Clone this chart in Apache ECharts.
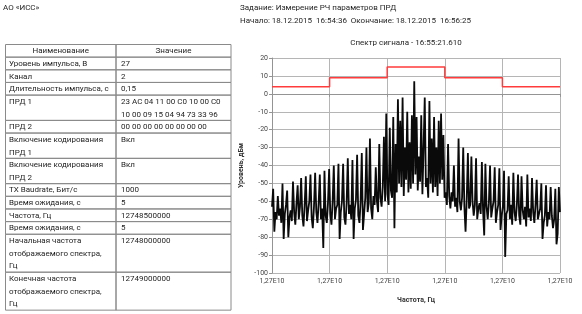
<!DOCTYPE html>
<html>
<head>
<meta charset="utf-8">
<script src="https://cdn.jsdelivr.net/npm/echarts@6/dist/echarts.min.js"></script>
<style>
  html, body { margin: 0; padding: 0; background: #fff; }
  #chart { width: 582px; height: 314px; }
</style>
</head>
<body>
<div id="chart"></div>
<script>
var FONT = 'Roboto, "Noto Sans", sans-serif';

// page texts
var orgName = 'АО «ИСС»';
var taskLine = 'Задание: Измерение РЧ параметров ПРД';
var timeLine = 'Начало: 18.12.2015  16:54:36  Окончание: 18.12.2015  16:56:25';
var chartTitle = 'Спектр сигнала - 16:55:21.610';

// parameter table
var tableHead = ['Наименование', 'Значение'];
var paramNames = [
  'Уровень импульса, В',
  'Канал',
  'Длительность импульса, с',
  'ПРД 1',
  'ПРД 2',
  'Включение кодирования\nПРД 1',
  'Включение кодирования\nПРД 2',
  'TX Baudrate, Бит/с',
  'Время ожидания, с',
  'Частота, Гц',
  'Время ожидания, с',
  'Начальная частота\nотображаемого спектра,\nГц',
  'Конечная частота\nотображаемого спектра,\nГц'
];
var paramValues = [
  '27',
  '2',
  '0,15',
  '23 AC 04 11 00 C0 10 00 C0\n10 00 09 15 04 94 73 33 96',
  '00 00 00 00 00 00 00 00',
  'Вкл',
  'Вкл',
  '1000',
  '5',
  '12748500000',
  '5',
  '12748000000',
  '12749000000'
];

// spectrum sweep (Hz) and measured levels (dBm), one per sweep point
var startHz = 12748000000;
var stopHz = 12749000000;
var stepHz = 200000;
var levels = [
  -63, -53, -77, -66, -70, -57, -68, -64, -72, -50,
  -81, -67, -62, -54, -80, -69, -65, -71, -49, -66,
  -73, -61, -51, -70, -63, -47, -68, -74, -62, -46,
  -71, -65, -60, -45, -69, -75, -63, -44, -66, -72,
  -61, -45, -70, -64, -86, -43, -68, -72, -61, -42,
  -67, -73, -60, -40, -70, -64, -62, -39, -81, -66,
  -60, -39, -69, -73, -61, -36, -67, -62, -70, -37,
  -81, -64, -59, -34, -68, -72, -60, -33, -76, -67,
  -58, -30, -66, -61, -25, -64, -70, -57, -62, -41,
  -60, -66, -28, -58, -63, -52, -24, -60, -11, -56,
  -62, -19, -54, -58, -13, -75, -28, -55, -3, -50,
  -15, -52, -2, -57, -30, -48, -10, -55, -27, -53,
  -12, -50, 7, -45, -13, -54, -35, -49, -12, -56,
  -30, -2, -52, -47, -58, -4, -50, -25, -55, -13,
  -52, -30, -57, -15, -50, -11, -48, -23, -58, -55,
  -62, -28, -57, -64, -55, -60, -40, -63, -58, -66,
  -25, -60, -65, -58, -30, -63, -77, -59, -33, -64,
  -62, -35, -60, -68, -62, -36, -70, -64, -61, -67,
  -38, -65, -79, -39, -63, -70, -61, -40, -69, -64,
  -60, -41, -72, -66, -62, -41.5, -76, -68, -63, -43,
  -91, -67, -65, -46, -70, -62, -73, -44, -66, -71,
  -62, -45, -68, -73, -46, -65, -70, -63, -74, -45,
  -69, -64, -71, -47, -66, -72, -62, -48, -70, -67,
  -64, -50, -81, -72, -68, -51, -74, -66, -70, -52,
  -68, -75, -70, -53, -84, -78, -52, -66
];

// limit mask (dBm), stepped at the band edges
var maskFreq = [12748000000, 12748200000, 12748400000, 12748600000, 12748800000, 12749000000];
var maskLevel = [4, 9, 15, 9, 4, 4];

var spectrumData = levels.map(function (v, i) {
  return [startHz + i * (stopHz - startHz) / (levels.length - 1), v];
});
var maskData = maskFreq.map(function (f, i) { return [f, maskLevel[i]]; });

// table drawn as graphic elements
var elements = [];
var tX = 5.5, w1 = 110.5, w2 = 115, tTop = 44.5, lineH = 12.65;
var textColor = '#1e1e1e', borderColor = '#8a8a8a';

function addText(x, y, text, align) {
  elements.push({
    type: 'text', x: x, y: y, silent: true,
    style: {
      text: text, fill: textColor, font: '8px ' + FONT,
      align: align || 'left', verticalAlign: 'top', lineHeight: lineH
    }
  });
}
function addCell(x, y, w, h) {
  elements.push({
    type: 'rect', silent: true,
    shape: { x: x, y: y, width: w, height: h },
    style: { fill: 'none', stroke: borderColor, lineWidth: 1 }
  });
}

addCell(tX, tTop, w1, lineH);
addCell(tX + w1, tTop, w2, lineH);
addText(tX + w1 / 2, tTop + 0.5, tableHead[0], 'center');
addText(tX + w1 + w2 / 2, tTop + 0.5, tableHead[1], 'center');

var rowY = tTop + lineH;
paramNames.forEach(function (name, i) {
  var n = Math.max(name.split('\n').length, paramValues[i].split('\n').length);
  var h = n * lineH;
  addCell(tX, rowY, w1, h);
  addCell(tX + w1, rowY, w2, h);
  addText(tX + 3.5, rowY + 0.5, name);
  addText(tX + w1 + 5, rowY + 0.5, paramValues[i]);
  rowY += h;
});

addText(3, 2, orgName);
addText(240, 2, taskLine);
addText(240, 15, timeLine);
addText(406, 37, chartTitle, 'center');

var chart = echarts.init(document.getElementById('chart'));
chart.setOption({
  animation: false,
  backgroundColor: '#fff',
  graphic: elements,
  grid: { left: 272, right: 22, top: 58, bottom: 41 },
  xAxis: {
    type: 'value',
    min: startHz,
    max: stopHz,
    interval: stepHz,
    name: 'Частота, Гц',
    nameLocation: 'middle',
    nameGap: 24,
    nameTextStyle: { fontSize: 7, fontWeight: 'bold', color: '#333', fontFamily: FONT },
    axisLine: { lineStyle: { color: '#949494' } },
    axisTick: { length: 3, lineStyle: { color: '#949494' } },
    axisLabel: {
      fontSize: 7, color: '#444', fontFamily: FONT, margin: 5,
      formatter: function (v) {
        return v.toExponential(2).replace('.', ',').replace('e+', 'E');
      }
    },
    splitLine: { show: true, lineStyle: { color: '#b5b5b5', width: 1 } }
  },
  yAxis: {
    type: 'value',
    min: -100,
    max: 20,
    interval: 10,
    name: 'Уровень, дБм',
    nameLocation: 'middle',
    nameGap: 27,
    nameTextStyle: { fontSize: 7, fontWeight: 'bold', color: '#333', fontFamily: FONT },
    axisLine: { show: true, lineStyle: { color: '#949494' } },
    axisTick: { show: true, length: 3, lineStyle: { color: '#949494' } },
    axisLabel: { fontSize: 7, color: '#444', fontFamily: FONT, margin: 4 },
    splitLine: { show: true, lineStyle: { color: '#b5b5b5', width: 1 } }
  },
  series: [
    {
      type: 'line',
      data: spectrumData,
      showSymbol: false,
      sampling: null,
      lineStyle: { color: '#0a0a0a', width: 1.8 },
      z: 3
    },
    {
      type: 'line',
      data: maskData,
      step: 'end',
      showSymbol: false,
      lineStyle: { color: '#ff3b3b', width: 1.5 },
      z: 4
    }
  ]
});
</script>
</body>
</html>
